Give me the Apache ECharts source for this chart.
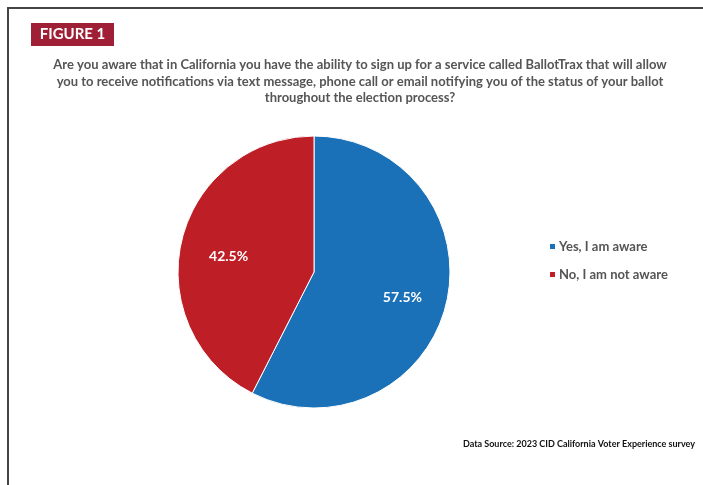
<!DOCTYPE html>
<html>
<head>
<meta charset="utf-8">
<script src="https://cdn.jsdelivr.net/npm/echarts@6/dist/echarts.min.js"></script>
<style>
html,body{margin:0;padding:0;background:#fff;}
#chart{width:703px;height:485px;}
</style>
</head>
<body>
<div id="chart"></div>
<script>
const categories = ['Yes, I am aware', 'No, I am not aware'];
const values = [57.5, 42.5];
const colors = ['#1b71b8', '#be1e26'];
const figureLabel = 'FIGURE 1';
const titleLines = [
  'Are you aware that in California you have the ability to sign up for a service called BallotTrax that will allow',
  'you to receive notifications via text message, phone call or email notifying you of the status of your ballot',
  'throughout the election process?'
];
const sourceText = 'Data Source: 2023 CID California Voter Experience survey';

const FONT = 'Lato, "Open Sans", sans-serif';
const labelOffsets = [[-3, 4], [6, 6]];
const data = categories.map((c, i) => ({ name: c, value: values[i], itemStyle: { color: colors[i] } }));

const chart = echarts.init(document.getElementById('chart'), null, { renderer: 'canvas' });
chart.setOption({
  backgroundColor: '#fff',
  animation: false,
  title: {
    text: titleLines.join('\n'),
    left: 355,
    top: 52,
    textAlign: 'center',
    textStyle: { fontFamily: FONT, fontWeight: 'bold', fontSize: 13, color: '#555555', lineHeight: 16.5 }
  },
  legend: {
    orient: 'vertical',
    left: 543,
    top: 235,
    icon: 'rect',
    itemWidth: 7,
    itemHeight: 7,
    itemGap: 15,
    selectedMode: false,
    data: categories,
    textStyle: { fontFamily: FONT, fontWeight: 'bold', fontSize: 13, color: '#555555', padding: [0, 0, 0, -2] }
  },
  graphic: [
    { type: 'line', shape: { x1: 8, y1: 8, x2: 703, y2: 8 }, style: { stroke: '#444', lineWidth: 2 } },
    { type: 'line', shape: { x1: 8, y1: 7, x2: 8, y2: 485 }, style: { stroke: '#444', lineWidth: 2 } },
    { type: 'rect', shape: { x: 31, y: 23, width: 83, height: 23 }, style: { fill: '#9e1f36' } },
    { type: 'text', x: 72.5, y: 34.5, style: { text: figureLabel, fill: '#fff', font: 'bold 15px ' + FONT, align: 'center', verticalAlign: 'middle' } },
    { type: 'text', x: 695, y: 444, style: { text: sourceText, fill: '#111', font: 'bold 9px ' + FONT, align: 'right', verticalAlign: 'middle' } }
  ],
  series: [
    {
      type: 'pie',
      center: [314, 272],
      radius: [0, 136],
      startAngle: 90,
      clockwise: true,
      silent: true,
      data: data,
      itemStyle: { borderColor: '#fff', borderWidth: 1 },
      label: { show: false },
      labelLine: { show: false }
    },
    {
      type: 'pie',
      center: [314, 272],
      radius: [46, 136],
      startAngle: 90,
      clockwise: true,
      silent: true,
      legendHoverLink: false,
      data: categories.map((c, i) => ({ name: c, value: values[i], label: { offset: labelOffsets[i] } })),
      itemStyle: { color: 'rgba(0,0,0,0)' },
      label: {
        show: true,
        position: 'inner',
        formatter: p => p.value.toFixed(1) + '%',
        color: '#fff',
        fontFamily: FONT,
        fontWeight: 'bold',
        fontSize: 14
      },
      labelLine: { show: false }
    }
  ]
});
</script>
</body>
</html>
